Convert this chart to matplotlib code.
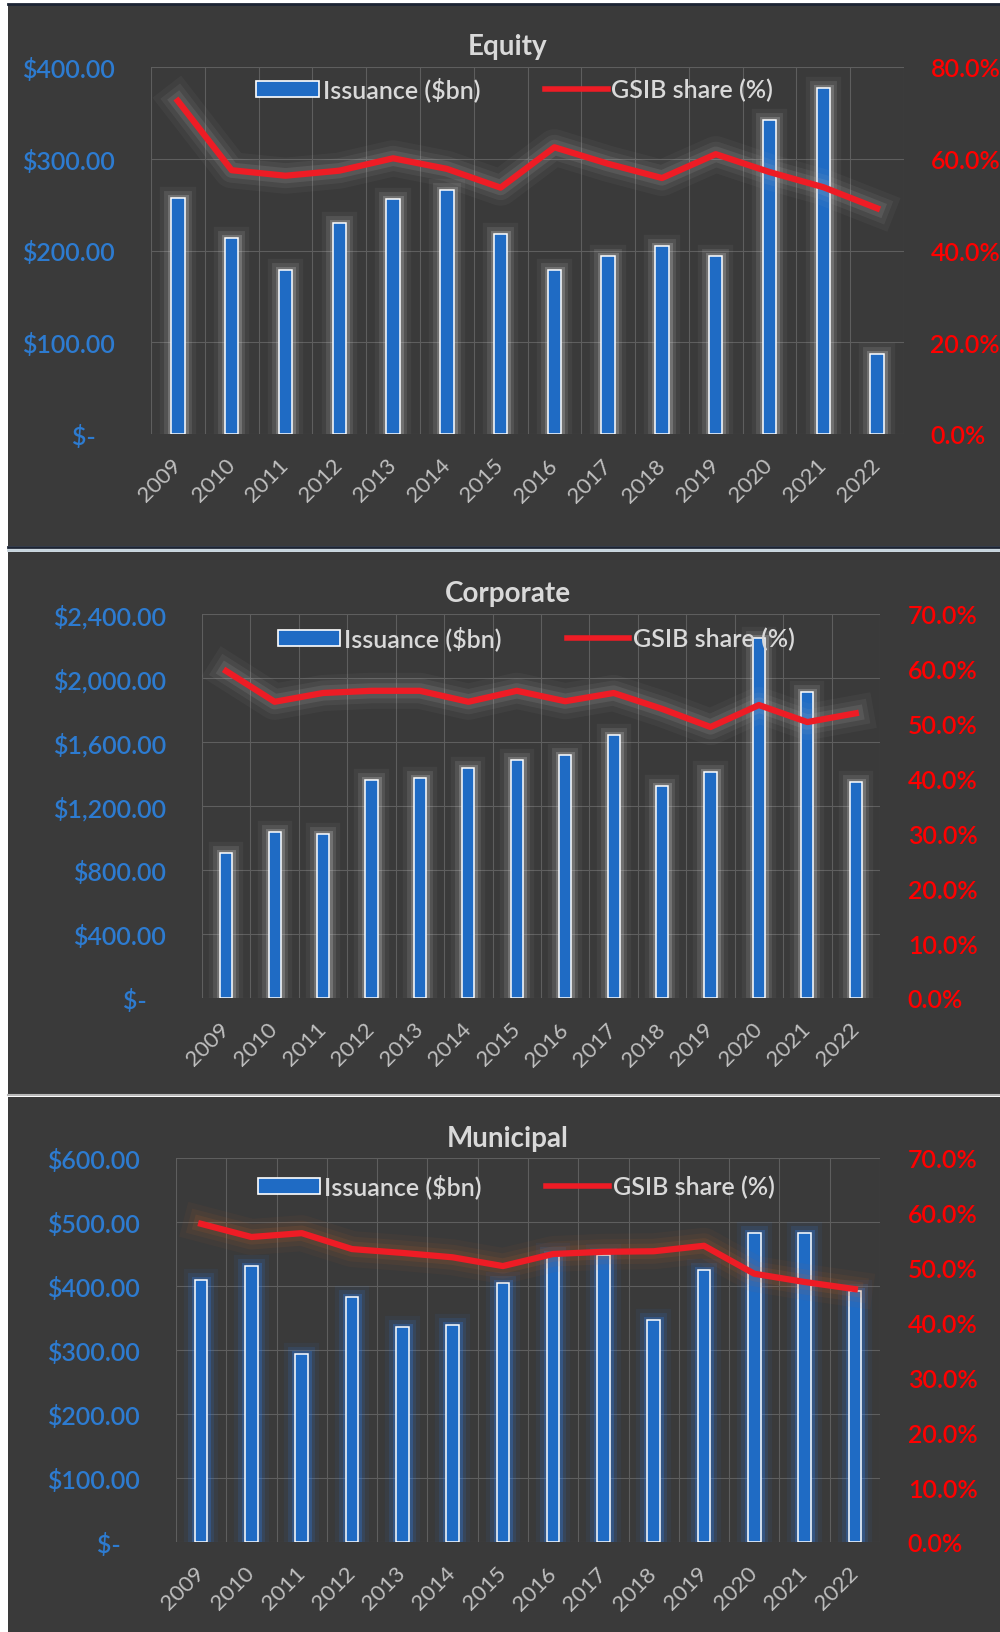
import numpy as np
import matplotlib.pyplot as plt
import matplotlib.patheffects as pe
from matplotlib.patches import Rectangle, Patch
from matplotlib.lines import Line2D

plt.rcParams['font.family'] = ['Lato', 'DejaVu Sans']

lata = ['2009', '2010', '2011', '2012', '2013', '2014', '2015',
        '2016', '2017', '2018', '2019', '2020', '2021', '2022']

# Equity
eq_emisja = [257, 214, 179, 230, 256, 266, 218, 179, 194, 205, 194, 342, 377, 87]
eq_gsib = [72.6, 57.5, 56.3, 57.4, 60.1, 57.8, 53.7, 62.5, 58.9, 55.8, 61.0, 57.1, 53.8, 49.2]
eq_yt = [0, 100, 200, 300, 400]
eq_ytz = ['$-   ', '$100.00', '$200.00', '$300.00', '$400.00']
eq_pt = [0, 20, 40, 60, 80]
eq_ptz = ['0.0%', '20.0%', '40.0%', '60.0%', '80.0%']

# Corporate
co_emisja = [906, 1037, 1025, 1362, 1375, 1437, 1487, 1519, 1644, 1325, 1412, 2250, 1912, 1350]
co_gsib = [59.6, 54.0, 55.6, 56.0, 56.0, 54.0, 56.0, 54.1, 55.6, 52.7, 49.4, 53.4, 50.3, 51.9]
co_yt = [0, 400, 800, 1200, 1600, 2000, 2400]
co_ytz = ['$-   ', '$400.00', '$800.00', '$1,200.00', '$1,600.00', '$2,000.00', '$2,400.00']

# Municipal
mu_emisja = [409, 431, 294, 383, 336, 339, 405, 450, 449, 347, 425, 483, 483, 392]
mu_gsib = [58.0, 55.6, 56.3, 53.4, 52.7, 51.9, 50.3, 52.5, 52.9, 53.0, 54.0, 48.9, 47.4, 46.1]
mu_yt = [0, 100, 200, 300, 400, 500, 600]
mu_ytz = ['$-   ', '$100.00', '$200.00', '$300.00', '$400.00', '$500.00', '$600.00']

pt70 = [0, 10, 20, 30, 40, 50, 60, 70]
pt70z = ['0.0%', '10.0%', '20.0%', '30.0%', '40.0%', '50.0%', '60.0%', '70.0%']

W, H = 1000, 1633
tlo = '#3a3a3a'
niebieski = '#1F6BC4'
czerwony = '#EE1C25'
szary = '#d9d9d9'
siatka = '#5e5e5e'

fig = plt.figure(figsize=(10, 16.33), dpi=100, facecolor='white')

# tla paneli
for y0, y1 in [(5, 547), (553, 1095), (1098, 1633)]:
    fig.patches.append(Rectangle((8 / W, 1 - y1 / H), 992 / W, (y1 - y0) / H,
                                 transform=fig.transFigure, facecolor=tlo,
                                 edgecolor='none', zorder=-10))
fig.add_artist(Line2D([8 / W, 1], [1 - 5 / H, 1 - 5 / H], color='#1c2433', lw=2, zorder=-5))
fig.add_artist(Line2D([8 / W, 1], [1 - 548 / H, 1 - 548 / H], color='#1c2433', lw=2, zorder=-5))
fig.add_artist(Line2D([8 / W, 1], [1 - 551 / H, 1 - 551 / H], color='#c5d3dc', lw=2, zorder=-5))
fig.add_artist(Line2D([8 / W, 1], [1 - 1096 / H, 1 - 1096 / H], color='#b8b8b8', lw=1.5, zorder=-5))

panele = [
    dict(tytul='Equity', ty=47, l=151, r=904, t=68, b=435, em=eq_emisja, gs=eq_gsib,
         yt=eq_yt, ytz=eq_ytz, pt=eq_pt, ptz=eq_ptz, rpad=19, leg=(0.483, 0.94),
         gb='#cfcfcf', gl='#bdbdbd'),
    dict(tytul='Corporate', ty=594, l=202, r=880, t=615, b=999, em=co_emisja, gs=co_gsib,
         yt=co_yt, ytz=co_ytz, pt=pt70, ptz=pt70z, rpad=20, leg=(0.493, 0.9375),
         gb='#cfcfcf', gl='#bdbdbd'),
    dict(tytul='Municipal', ty=1139, l=176, r=880, t=1159, b=1543, em=mu_emisja, gs=mu_gsib,
         yt=mu_yt, ytz=mu_ytz, pt=pt70, ptz=pt70z, rpad=20, leg=(0.483, 0.927),
         gb='#2f86ff', gl='#c8642a'),
]

x = np.arange(len(lata))
for p in panele:
    ax = fig.add_axes([p['l'] / W, 1 - p['b'] / H, (p['r'] - p['l']) / W, (p['b'] - p['t']) / H])
    ax.set_facecolor('none')
    bars = ax.bar(x, p['em'], width=0.25, color=niebieski, edgecolor='white', linewidth=1.1, zorder=3)
    for b in bars:
        b.set_path_effects([pe.Stroke(linewidth=16, foreground=p['gb'], alpha=0.06),
                            pe.Stroke(linewidth=10, foreground=p['gb'], alpha=0.12),
                            pe.Stroke(linewidth=5, foreground=p['gb'], alpha=0.25),
                            pe.Normal()])
    ax.set_xlim(-0.5, len(lata) - 0.5)
    ax.set_ylim(p['yt'][0], p['yt'][-1])
    ax.set_yticks(p['yt'], p['ytz'], weight='semibold')
    ax.set_xticks(x, lata)
    ax.set_xticks(np.arange(-0.5, len(lata), 1), minor=True)
    ax.grid(which='minor', axis='x', color=siatka, lw=0.8)
    ax.grid(which='major', axis='y', color=siatka, lw=0.8)
    ax.set_axisbelow(True)
    for s in ax.spines.values():
        s.set_visible(False)
    ax.tick_params(axis='y', length=0, pad=26, labelsize=18, labelcolor='#2D7BD0')
    ax.tick_params(axis='x', which='both', length=0, pad=20, labelsize=16, labelcolor='#bfbfbf')
    plt.setp(ax.get_xticklabels(), rotation=45, ha='right', va='center', rotation_mode='anchor')

    ax2 = ax.twinx()
    ax2.set_facecolor('none')
    ax2.plot(x, p['gs'], color=czerwony, lw=4.5, solid_joinstyle='round', zorder=4,
             path_effects=[pe.Stroke(linewidth=26, foreground=p['gl'], alpha=0.05),
                           pe.Stroke(linewidth=18, foreground=p['gl'], alpha=0.08),
                           pe.Stroke(linewidth=11, foreground=p['gl'], alpha=0.12),
                           pe.Normal()])
    ax2.set_ylim(p['pt'][0], p['pt'][-1])
    ax2.set_yticks(p['pt'], p['ptz'], weight='semibold')
    for s in ax2.spines.values():
        s.set_visible(False)
    ax2.tick_params(axis='y', length=0, pad=p['rpad'], labelsize=18, labelcolor='#FF0000')

    uchwyty = [Patch(facecolor=niebieski, edgecolor='white', lw=1.2),
               Line2D([], [], color=czerwony, lw=4)]
    ax2.legend(uchwyty, ['Issuance ($bn)', 'GSIB share (%)'], ncol=2, loc='center',
               bbox_to_anchor=p['leg'], frameon=False, labelcolor=szary,
               prop={'size': 18, 'weight': 'semibold'},
               handlelength=2.5, handleheight=0.6, handletextpad=0.15, columnspacing=2.6)

    fig.text(508 / W, 1 - p['ty'] / H, p['tytul'], ha='center', va='center',
             fontsize=20, weight='bold', color=szary)

plt.savefig('out.png', dpi=100)
